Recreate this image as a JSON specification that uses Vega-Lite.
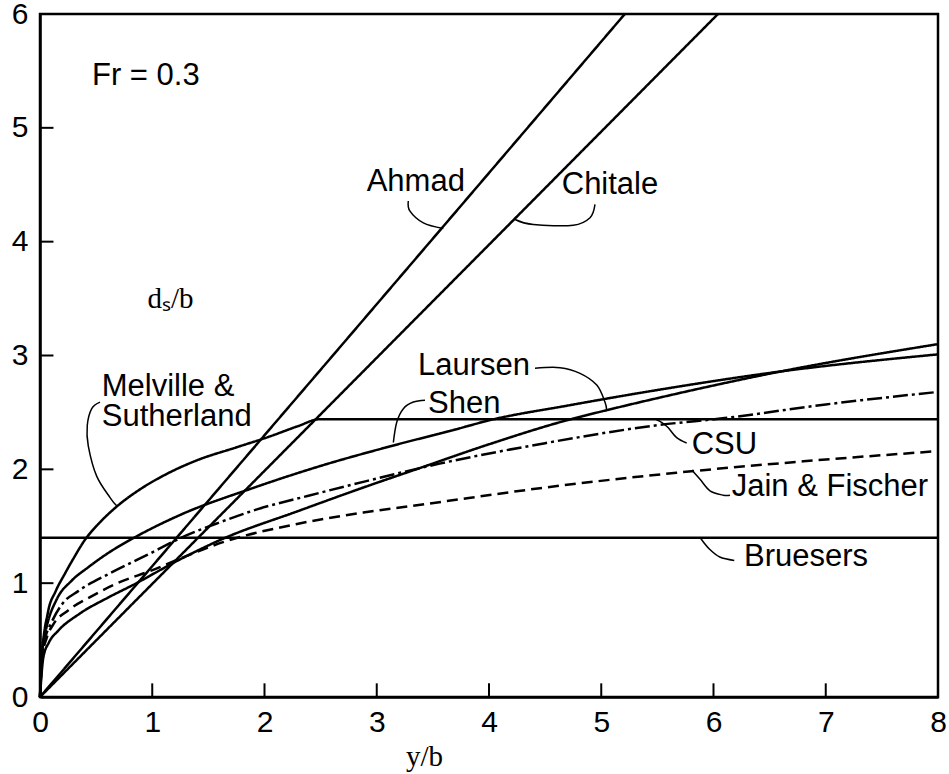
{
  "$schema": "https://vega.github.io/schema/vega-lite/v6.json",
  "width": 898,
  "height": 683,
  "autosize": {"type": "none"},
  "padding": {"left": 40, "top": 14, "right": 11, "bottom": 77},
  "background": "white",
  "config": {
    "view": {"stroke": "black", "strokeWidth": 2.5},
    "axis": {
      "domainColor": "black", "domainWidth": 2.5, "ticks": false,
      "labelColor": "black", "labelFont": "Liberation Sans", "labelFontSize": 30,
      "grid": false, "labelOverlap": false, "labelFlush": false,
      "titleColor": "black", "titleFont": "Liberation Serif", "titleFontWeight": "normal", "titleFontSize": 29
    }
  },
  "datasets": {
    "curves": [
      {"s": "Ahmad", "x": 0, "y": 0}, {"s": "Ahmad", "x": 2.6, "y": 2.99}, {"s": "Ahmad", "x": 5.21, "y": 6.0},
      {"s": "Chitale", "x": 0, "y": 0}, {"s": "Chitale", "x": 3.0, "y": 2.98}, {"s": "Chitale", "x": 6.04, "y": 6.0},
      {"s": "Bruesers", "x": 0, "y": 1.4}, {"s": "Bruesers", "x": 8, "y": 1.4},
      {"s": "Melville", "x": 0, "y": 0}, {"s": "Melville", "x": 0.02, "y": 0.38}, {"s": "Melville", "x": 0.07, "y": 0.74},
      {"s": "Melville", "x": 0.14, "y": 0.93}, {"s": "Melville", "x": 0.22, "y": 1.08}, {"s": "Melville", "x": 0.3, "y": 1.22},
      {"s": "Melville", "x": 0.4, "y": 1.38}, {"s": "Melville", "x": 0.52, "y": 1.52}, {"s": "Melville", "x": 0.68, "y": 1.67},
      {"s": "Melville", "x": 0.9, "y": 1.83}, {"s": "Melville", "x": 1.11, "y": 1.95}, {"s": "Melville", "x": 1.4, "y": 2.08},
      {"s": "Melville", "x": 1.74, "y": 2.19}, {"s": "Melville", "x": 2.05, "y": 2.29}, {"s": "Melville", "x": 2.3, "y": 2.38},
      {"s": "Melville", "x": 2.49, "y": 2.44}, {"s": "Melville", "x": 8, "y": 2.44},
      {"s": "Shen", "x": 0, "y": 0}, {"s": "Shen", "x": 0.02, "y": 0.42}, {"s": "Shen", "x": 0.06, "y": 0.62},
      {"s": "Shen", "x": 0.15, "y": 0.86}, {"s": "Shen", "x": 0.28, "y": 1.02}, {"s": "Shen", "x": 0.43, "y": 1.14},
      {"s": "Shen", "x": 0.6, "y": 1.26}, {"s": "Shen", "x": 0.84, "y": 1.4}, {"s": "Shen", "x": 1.25, "y": 1.6},
      {"s": "Shen", "x": 1.88, "y": 1.83}, {"s": "Shen", "x": 2.5, "y": 2.03}, {"s": "Shen", "x": 3.15, "y": 2.21},
      {"s": "Shen", "x": 3.7, "y": 2.35}, {"s": "Shen", "x": 4.0, "y": 2.43}, {"s": "Shen", "x": 4.7, "y": 2.56},
      {"s": "Shen", "x": 5.52, "y": 2.7}, {"s": "Shen", "x": 6.6, "y": 2.86}, {"s": "Shen", "x": 8, "y": 3.01},
      {"s": "Laursen", "x": 0, "y": 0}, {"s": "Laursen", "x": 0.03, "y": 0.35}, {"s": "Laursen", "x": 0.08, "y": 0.48},
      {"s": "Laursen", "x": 0.16, "y": 0.58}, {"s": "Laursen", "x": 0.35, "y": 0.73}, {"s": "Laursen", "x": 0.6, "y": 0.87},
      {"s": "Laursen", "x": 0.84, "y": 0.99}, {"s": "Laursen", "x": 1.23, "y": 1.2}, {"s": "Laursen", "x": 1.63, "y": 1.39},
      {"s": "Laursen", "x": 2.29, "y": 1.63}, {"s": "Laursen", "x": 2.88, "y": 1.84}, {"s": "Laursen", "x": 3.38, "y": 2.01},
      {"s": "Laursen", "x": 4.0, "y": 2.22}, {"s": "Laursen", "x": 4.69, "y": 2.43}, {"s": "Laursen", "x": 5.05, "y": 2.52},
      {"s": "Laursen", "x": 5.52, "y": 2.63}, {"s": "Laursen", "x": 6.6, "y": 2.86}, {"s": "Laursen", "x": 8, "y": 3.1},
      {"s": "CSU", "x": 0, "y": 0}, {"s": "CSU", "x": 0.02, "y": 0.38}, {"s": "CSU", "x": 0.05, "y": 0.53},
      {"s": "CSU", "x": 0.1, "y": 0.65}, {"s": "CSU", "x": 0.2, "y": 0.82}, {"s": "CSU", "x": 0.34, "y": 0.93},
      {"s": "CSU", "x": 0.63, "y": 1.09}, {"s": "CSU", "x": 0.96, "y": 1.25}, {"s": "CSU", "x": 1.26, "y": 1.4},
      {"s": "CSU", "x": 1.59, "y": 1.53}, {"s": "CSU", "x": 1.94, "y": 1.65}, {"s": "CSU", "x": 2.4, "y": 1.77},
      {"s": "CSU", "x": 2.88, "y": 1.89}, {"s": "CSU", "x": 3.56, "y": 2.05}, {"s": "CSU", "x": 4.5, "y": 2.23},
      {"s": "CSU", "x": 5.52, "y": 2.39}, {"s": "CSU", "x": 6.1, "y": 2.45}, {"s": "CSU", "x": 7, "y": 2.57},
      {"s": "CSU", "x": 8, "y": 2.68},
      {"s": "Jain", "x": 0, "y": 0}, {"s": "Jain", "x": 0.02, "y": 0.35}, {"s": "Jain", "x": 0.06, "y": 0.52},
      {"s": "Jain", "x": 0.12, "y": 0.64}, {"s": "Jain", "x": 0.25, "y": 0.76}, {"s": "Jain", "x": 0.45, "y": 0.88},
      {"s": "Jain", "x": 0.69, "y": 1.0}, {"s": "Jain", "x": 0.99, "y": 1.11}, {"s": "Jain", "x": 1.26, "y": 1.22},
      {"s": "Jain", "x": 1.63, "y": 1.36}, {"s": "Jain", "x": 2.29, "y": 1.52}, {"s": "Jain", "x": 2.88, "y": 1.62},
      {"s": "Jain", "x": 3.47, "y": 1.7}, {"s": "Jain", "x": 4.5, "y": 1.84}, {"s": "Jain", "x": 5.67, "y": 1.97},
      {"s": "Jain", "x": 6.8, "y": 2.07}, {"s": "Jain", "x": 8, "y": 2.16}
    ],
    "leaders": [
      {"g": "Melville", "i": 0, "x": 0.535, "y": 2.59}, {"g": "Melville", "i": 1, "x": 0.461, "y": 2.533},
      {"g": "Melville", "i": 2, "x": 0.421, "y": 2.385}, {"g": "Melville", "i": 3, "x": 0.43, "y": 2.207},
      {"g": "Melville", "i": 4, "x": 0.505, "y": 1.94}, {"g": "Melville", "i": 5, "x": 0.624, "y": 1.752},
      {"g": "Melville", "i": 6, "x": 0.683, "y": 1.68},
      {"g": "Ahmad", "i": 0, "x": 3.281, "y": 4.357}, {"g": "Ahmad", "i": 1, "x": 3.296, "y": 4.268},
      {"g": "Ahmad", "i": 2, "x": 3.415, "y": 4.165}, {"g": "Ahmad", "i": 3, "x": 3.593, "y": 4.115},
      {"g": "Chitale", "i": 0, "x": 4.232, "y": 4.195}, {"g": "Chitale", "i": 1, "x": 4.395, "y": 4.15},
      {"g": "Chitale", "i": 2, "x": 4.751, "y": 4.144}, {"g": "Chitale", "i": 3, "x": 4.9, "y": 4.21},
      {"g": "Chitale", "i": 4, "x": 4.944, "y": 4.327},
      {"g": "Laursen", "i": 0, "x": 4.41, "y": 2.888}, {"g": "Laursen", "i": 1, "x": 4.633, "y": 2.893},
      {"g": "Laursen", "i": 2, "x": 4.811, "y": 2.843}, {"g": "Laursen", "i": 3, "x": 4.96, "y": 2.74},
      {"g": "Laursen", "i": 4, "x": 5.033, "y": 2.591}, {"g": "Laursen", "i": 5, "x": 5.048, "y": 2.518},
      {"g": "Shen", "i": 0, "x": 3.43, "y": 2.607}, {"g": "Shen", "i": 1, "x": 3.326, "y": 2.591},
      {"g": "Shen", "i": 2, "x": 3.237, "y": 2.533}, {"g": "Shen", "i": 3, "x": 3.178, "y": 2.414},
      {"g": "Shen", "i": 4, "x": 3.148, "y": 2.236},
      {"g": "CSU", "i": 0, "x": 5.488, "y": 2.438}, {"g": "CSU", "i": 1, "x": 5.541, "y": 2.411},
      {"g": "CSU", "i": 2, "x": 5.595, "y": 2.367}, {"g": "CSU", "i": 3, "x": 5.672, "y": 2.278},
      {"g": "CSU", "i": 4, "x": 5.761, "y": 2.231},
      {"g": "Jain", "i": 0, "x": 5.806, "y": 1.994}, {"g": "Jain", "i": 1, "x": 5.88, "y": 1.913},
      {"g": "Jain", "i": 2, "x": 5.969, "y": 1.811}, {"g": "Jain", "i": 3, "x": 6.087, "y": 1.773},
      {"g": "Jain", "i": 4, "x": 6.147, "y": 1.773},
      {"g": "Bruesers", "i": 0, "x": 5.888, "y": 1.39}, {"g": "Bruesers", "i": 1, "x": 5.963, "y": 1.3},
      {"g": "Bruesers", "i": 2, "x": 6.056, "y": 1.23}, {"g": "Bruesers", "i": 3, "x": 6.185, "y": 1.2}
    ],
    "xticks": [
      {"x": 1, "y": 0, "y2": 0.12}, {"x": 2, "y": 0, "y2": 0.12}, {"x": 3, "y": 0, "y2": 0.12},
      {"x": 4, "y": 0, "y2": 0.12}, {"x": 5, "y": 0, "y2": 0.12}, {"x": 6, "y": 0, "y2": 0.12},
      {"x": 7, "y": 0, "y2": 0.12}
    ],
    "yticks": [
      {"y": 1, "x": 0, "x2": 0.12}, {"y": 2, "x": 0, "x2": 0.12}, {"y": 3, "x": 0, "x2": 0.12},
      {"y": 4, "x": 0, "x2": 0.12}, {"y": 5, "x": 0, "x2": 0.12}
    ],
    "labels": [
      {"t": "Fr = 0.3", "x": 0.463, "y": 5.375},
      {"t": "Ahmad", "x": 2.91, "y": 4.445},
      {"t": "Chitale", "x": 4.648, "y": 4.416},
      {"t": "Melville &", "x": 0.55, "y": 2.645},
      {"t": "Sutherland", "x": 0.55, "y": 2.378},
      {"t": "Laursen", "x": 3.367, "y": 2.829},
      {"t": "Shen", "x": 3.457, "y": 2.497},
      {"t": "CSU", "x": 5.806, "y": 2.133},
      {"t": "Jain & Fischer", "x": 6.162, "y": 1.767},
      {"t": "Bruesers", "x": 6.272, "y": 1.148}
    ]
  },
  "layer": [
    {
      "data": {"name": "curves"},
      "mark": {"type": "line", "interpolate": "monotone", "color": "black", "strokeWidth": 2.5},
      "encoding": {
        "x": {"field": "x", "type": "quantitative",
          "scale": {"domain": [0, 8], "nice": false},
          "axis": {"values": [0, 1, 2, 3, 4, 5, 6, 7, 8], "format": "d", "labelPadding": 10,
            "title": "y/b", "titleX": 384, "titleY": 68, "titleAlign": "center", "titleBaseline": "alphabetic"}},
        "y": {"field": "y", "type": "quantitative",
          "scale": {"domain": [0, 6], "nice": false},
          "axis": {"values": [0, 1, 2, 3, 4, 5, 6], "format": "d", "labelPadding": 12,
            "title": "dₛ/b", "titleAngle": 0, "titleX": 107, "titleY": 293, "titleAlign": "left", "titleBaseline": "alphabetic"}},
        "detail": {"field": "s", "type": "nominal"},
        "strokeDash": {"field": "s", "type": "nominal", "legend": null,
          "scale": {"domain": ["Ahmad", "Chitale", "Bruesers", "Melville", "Shen", "Laursen", "CSU", "Jain"],
            "range": [[1, 0], [1, 0], [1, 0], [1, 0], [1, 0], [1, 0], [15, 4, 3, 4], [11, 6]]}}
      }
    },
    {
      "data": {"name": "xticks"},
      "mark": {"type": "rule", "color": "black", "strokeWidth": 2},
      "encoding": {
        "x": {"field": "x", "type": "quantitative"},
        "y": {"field": "y", "type": "quantitative"},
        "y2": {"field": "y2"}
      }
    },
    {
      "data": {"name": "yticks"},
      "mark": {"type": "rule", "color": "black", "strokeWidth": 2},
      "encoding": {
        "y": {"field": "y", "type": "quantitative"},
        "x": {"field": "x", "type": "quantitative"},
        "x2": {"field": "x2"}
      }
    },
    {
      "data": {"name": "leaders"},
      "mark": {"type": "line", "interpolate": "cardinal", "color": "black", "strokeWidth": 1.5},
      "encoding": {
        "x": {"field": "x", "type": "quantitative"},
        "y": {"field": "y", "type": "quantitative"},
        "detail": {"field": "g", "type": "nominal"},
        "order": {"field": "i", "type": "quantitative"}
      }
    },
    {
      "data": {"name": "labels"},
      "mark": {"type": "text", "align": "left", "baseline": "alphabetic", "font": "Liberation Sans", "fontSize": 31, "color": "black"},
      "encoding": {
        "x": {"field": "x", "type": "quantitative"},
        "y": {"field": "y", "type": "quantitative"},
        "text": {"field": "t", "type": "nominal"}
      }
    }
  ]
}
